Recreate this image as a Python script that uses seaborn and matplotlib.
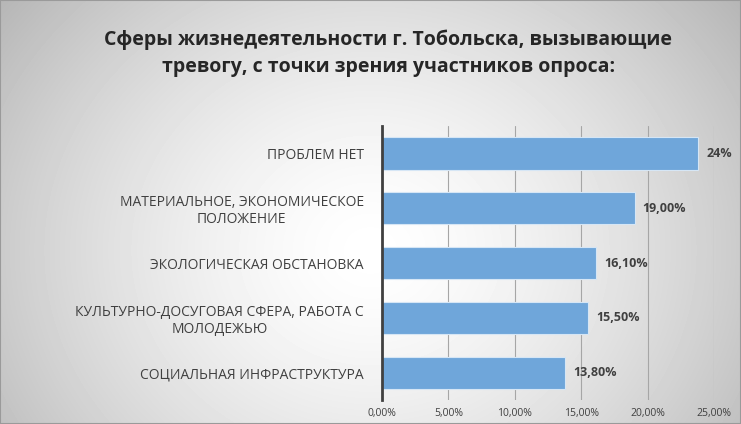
import numpy as np
import pandas as pd
import matplotlib
matplotlib.use('Agg')
import matplotlib.pyplot as plt
import seaborn as sns

# data
categories = [
    'ПРОБЛЕМ НЕТ',
    'МАТЕРИАЛЬНОЕ, ЭКОНОМИЧЕСКОЕ\nПОЛОЖЕНИЕ',
    'ЭКОЛОГИЧЕСКАЯ ОБСТАНОВКА',
    'КУЛЬТУРНО-ДОСУГОВАЯ СФЕРА, РАБОТА С\nМОЛОДЕЖЬЮ',
    'СОЦИАЛЬНАЯ ИНФРАСТРУКТУРА',
]
values = [23.8, 19.0, 16.1, 15.5, 13.8]
value_labels = ['24%', '19,00%', '16,10%', '15,50%', '13,80%']
x_ticks = [0, 5, 10, 15, 20, 25]
x_tick_labels = ['0,00%', '5,00%', '10,00%', '15,00%', '20,00%', '25,00%']

df = pd.DataFrame({'cat': categories, 'val': values})

sns.set_theme(style='white')
plt.rcParams['font.family'] = ['Open Sans', 'DejaVu Sans']

fig = plt.figure(figsize=(7.41, 4.24), dpi=100)

# radial grey-to-white background
bg = fig.add_axes([0, 0, 1, 1], zorder=-10)
yy, xx = np.mgrid[0:424, 0:741]
r = np.sqrt(((xx - 370) / 480.0) ** 2 + ((yy - 250) / 420.0) ** 2)
shade = 1.0 - 0.3 * np.clip(r, 0, 1) ** 1.5
bg.imshow(shade, cmap='gray', vmin=0, vmax=1, aspect='auto', extent=[0, 1, 0, 1])
bg.set_axis_off()
fig.patches.append(plt.Rectangle((0, 0), 1, 1, transform=fig.transFigure,
                                 fill=False, edgecolor='#9a9a9a', linewidth=1.5))

ax = fig.add_axes([0.5155, 0.0566, 0.4485, 0.646])
ax.patch.set_alpha(0)
sns.barplot(data=df, x='val', y='cat', color='#6fa6da', saturation=1,
            width=0.585, edgecolor='#d6e6f5', linewidth=0.8, ax=ax, zorder=3)

ax.set_xlim(0, 25)
ax.set_xticks(x_ticks)
ax.set_xticklabels(x_tick_labels, fontsize=7.5, color='#404040')
ax.set_yticks(range(len(categories)))
ax.set_yticklabels(categories, fontsize=10, color='#404040', multialignment='center')
ax.tick_params(axis='y', length=0, pad=13)
ax.tick_params(axis='x', length=0, pad=6)
ax.set_xlabel('')
ax.set_ylabel('')
ax.grid(axis='x', color='#a6a6a6', linewidth=0.8, zorder=0)
for s in ['top', 'right', 'bottom']:
    ax.spines[s].set_visible(False)
ax.spines['left'].set_color('#404040')
ax.spines['left'].set_linewidth(2)
ax.spines['left'].set_zorder(5)

for i, (v, lab) in enumerate(zip(values, value_labels)):
    ax.text(v + 0.6, i, lab, va='center', ha='left', fontsize=9,
            fontweight='bold', color='#404040', zorder=6)

fig.text(0.524, 0.875, 'Сферы жизнедеятельности г. Тобольска, вызывающие\nтревогу, с точки зрения участников опроса:',
         ha='center', va='center', fontsize=14, fontweight='bold', color='#262626',
         linespacing=1.45)

fig.savefig('out.png', dpi=100)
